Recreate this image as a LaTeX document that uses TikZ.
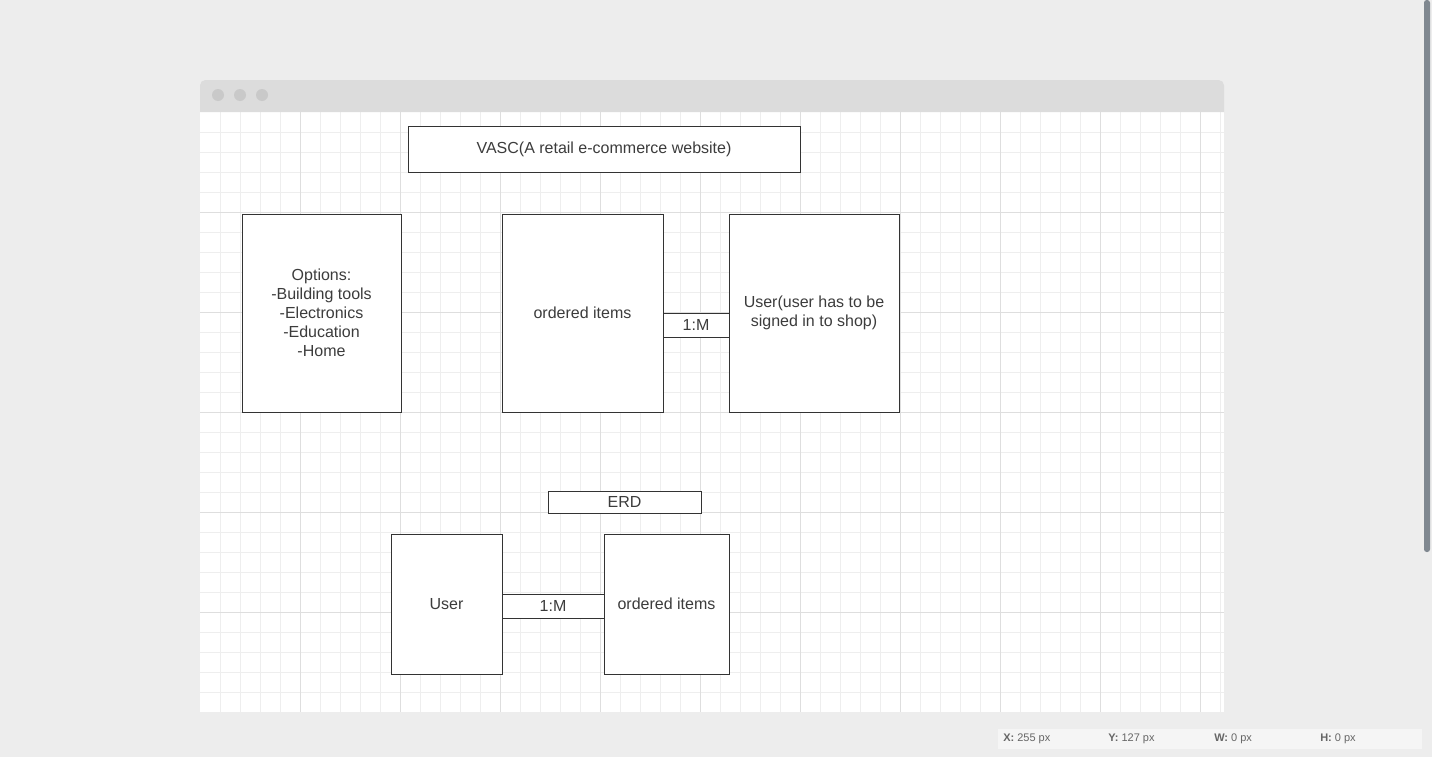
\documentclass[tikz,border=0pt]{standalone}
\usepackage{fontspec}
\setmainfont{Liberation Sans}
\usepackage{tikz}
\usetikzlibrary{positioning}

\definecolor{pagebg}{HTML}{EDEDED}
\definecolor{barbg}{HTML}{DCDCDC}
\definecolor{dotgray}{HTML}{C9C9C9}
\definecolor{minorgrid}{HTML}{EEEEEE}
\definecolor{majorgrid}{HTML}{DEDEDE}
\definecolor{edge}{HTML}{333333}
\definecolor{ink}{HTML}{3C3C3C}
\definecolor{statusbg}{HTML}{F5F5F5}
\definecolor{statusink}{HTML}{666666}
\definecolor{scrollgray}{HTML}{808890}

\begin{document}
\begin{tikzpicture}[x=0.75pt, y=-0.75pt, every node/.style={font=\fontsize{12}{14.25}\selectfont, text=ink},
    box/.style={draw=edge, line width=0.75pt, fill=white, align=center, inner sep=0pt},
    status/.style={font=\fontsize{8.25}{10}\selectfont, text=statusink, anchor=west, inner sep=0pt}]
    % page and window
    \fill[pagebg] (0,0) rectangle (1432,757);
    \useasboundingbox (0,0) rectangle (1432,757);
    \fill[white] (200,112) rectangle (1224,712);
    \foreach \x in {220,240,...,1220} \draw[minorgrid, line width=0.75pt] (\x,112) -- (\x,712);
    \foreach \y in {132,152,...,692} \draw[minorgrid, line width=0.75pt] (200,\y) -- (1224,\y);
    \foreach \x in {300,400,...,1200} \draw[majorgrid, line width=0.75pt] (\x,112) -- (\x,712);
    \foreach \y in {212,312,...,612} \draw[majorgrid, line width=0.75pt] (200,\y) -- (1224,\y);
    \fill[barbg] (200,112) [rounded corners=4pt] -- (200,80) -- (1224,80) [sharp corners] -- (1224,112) -- cycle;
    \foreach \x in {218,240,262} \fill[dotgray] (\x,95) circle (4.5pt);
    \fill[scrollgray, rounded corners=2pt] (1424,0) rectangle (1430,552);

    % top diagram
    \node[box, minimum width=294pt, minimum height=34.5pt] (title) at (604,149) {VASC(A retail e-commerce website)};
    \node[box, minimum width=119.25pt, minimum height=148.5pt] (options) at (321.5,313) {Options:\\-Building tools\\-Electronics\\-Education\\-Home};
    \node[box, minimum width=120.75pt, minimum height=148.5pt] (items) at (582.5,313) {ordered items};
    \node[box, minimum width=127.5pt, minimum height=148.5pt] (user) at (814,313) {User(user has to be\\ signed in to shop)};
    \node[box, minimum width=49.5pt, minimum height=18pt] (link) at (696,325) {1:M};

    % ERD
    \node[box, minimum width=114.75pt, minimum height=16.5pt] (erd) at (624.5,502) {ERD};
    \node[box, minimum width=83.25pt, minimum height=105pt] (erduser) at (446.5,604) {User};
    \node[box, minimum width=93.75pt, minimum height=105pt] (erditems) at (666.5,604) {ordered items};
    \node[box, minimum width=76.5pt, minimum height=18pt] (erdlink) at (553,606) {1:M};

    % status bar
    \fill[statusbg] (998,729) rectangle (1422,749);
    \node[status] (sx) at (1003,739) {\textbf{X:} 255 px};
    \node[status] (sy) at (1108,739) {\textbf{Y:} 127 px};
    \node[status] (sw) at (1214,739) {\textbf{W:} 0 px};
    \node[status] (sh) at (1320,739) {\textbf{H:} 0 px};
\end{tikzpicture}
\end{document}
